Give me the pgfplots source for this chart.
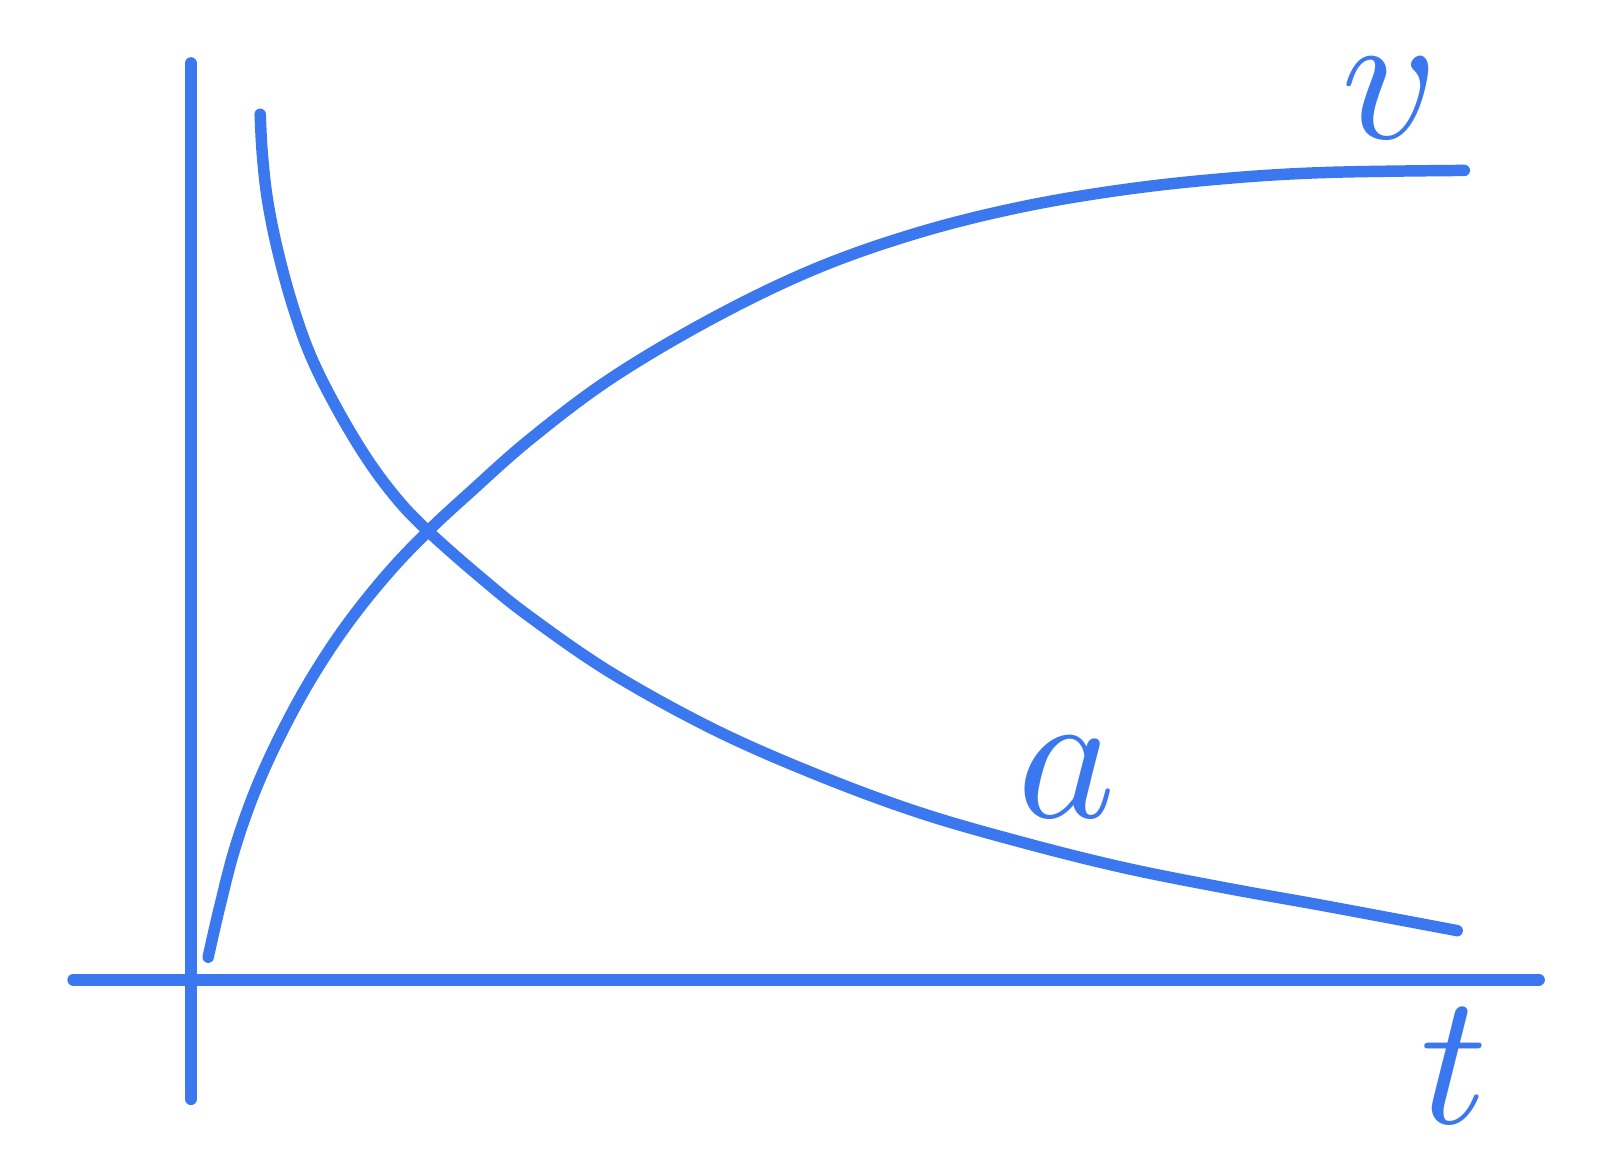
\documentclass[border=0pt]{standalone}
\usepackage{pgfplots}
\pgfplotsset{compat=1.18}
\definecolor{pen}{RGB}{59,120,240}
\begin{document}
\begin{tikzpicture}
\begin{axis}[
  width=15.68cm, height=11.51cm, scale only axis,
  xmin=0, xmax=1568, ymin=0, ymax=1151, y dir=reverse,
  hide axis, clip=false,
]
\fill[white] (axis cs:0,0) rectangle (axis cs:1568,1151);
% axes
\addplot[pen, line width=3.4pt, line cap=round] coordinates {(187,62) (187,1077)};
\addplot[pen, line width=3.4pt, line cap=round] coordinates {(72,960) (1508,960)};
% v curve
\addplot[pen, line width=3.2pt, line cap=round, smooth, tension=0.6] coordinates {
(204,938) (215,890) (230,832) (250,775) (275,720) (305,665) (340,612) (380,562)
(420,520) (460,483) (520,430) (600,370) (700,311) (800,263) (900,228) (1000,203)
(1100,186) (1200,175) (1300,169) (1435,167)};
% a curve
\addplot[pen, line width=3.2pt, line cap=round, smooth, tension=0.6] coordinates {
(255,112) (257,150) (262,195) (272,245) (287,300) (305,350) (330,400) (360,450)
(390,490) (420,521) (470,565) (520,605) (600,660) (700,715) (800,759)
(900,796) (1000,825) (1100,850) (1200,870) (1300,888) (1428,912)};
\node[pen, scale=5.2, inner sep=0pt] at (axis cs:1362,96) {$v$};
\node[pen, scale=5.2, inner sep=0pt] at (axis cs:1045,762) {$a$};
\node[pen, scale=5.2, inner sep=0pt] at (axis cs:1425,1045) {$t$};
\end{axis}
\end{tikzpicture}
\end{document}
